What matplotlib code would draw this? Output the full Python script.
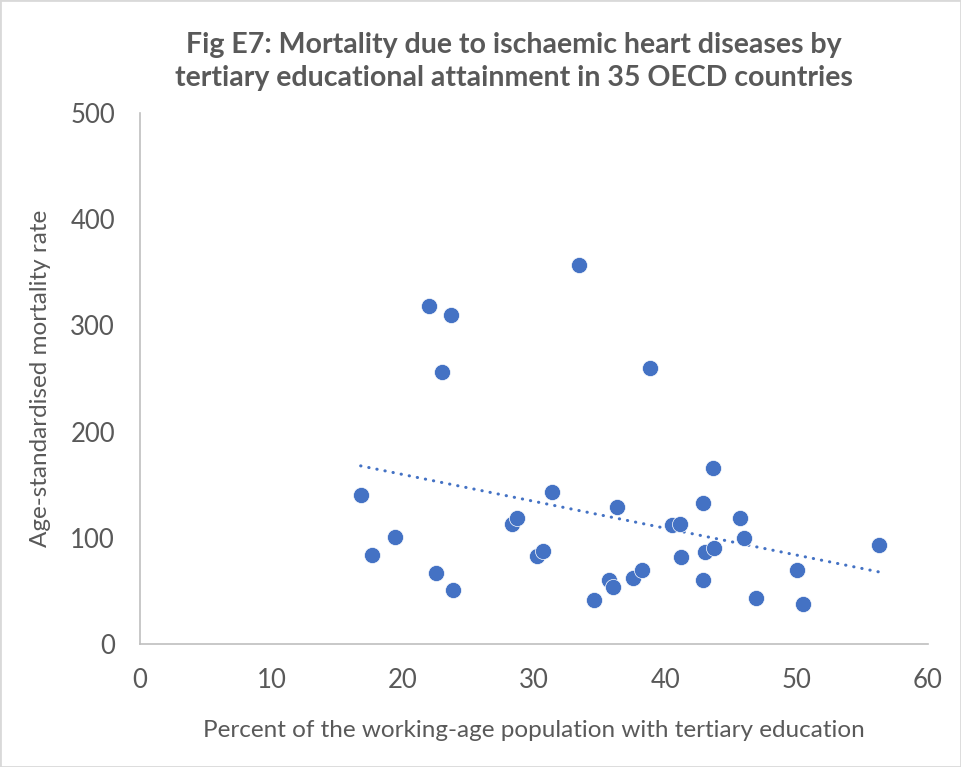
import numpy as np
import matplotlib
matplotlib.use('Agg')
import matplotlib.pyplot as plt
from matplotlib.patches import Rectangle

# percent of working-age population with tertiary education
tertiary = [16.8, 17.7, 19.4, 22.0, 22.5, 23.0, 23.7, 23.8, 28.3, 28.7,
            30.2, 30.7, 31.4, 33.4, 34.6, 35.7, 36.0, 36.3, 37.5, 38.2,
            38.8, 40.5, 41.1, 41.2, 42.9, 42.9, 43.0, 43.7, 43.6, 45.7,
            46.0, 46.9, 50.0, 50.5, 56.3]
# age-standardised mortality rate
mortality = [140, 84, 101, 318, 67, 256, 310, 51, 113, 119,
             83, 88, 143, 357, 41, 60, 54, 129, 62, 70,
             260, 112, 113, 82, 133, 60, 87, 90, 166, 119,
             100, 43, 70, 38, 93]

title = 'Fig E7: Mortality due to ischaemic heart diseases by\ntertiary educational attainment in 35 OECD countries'
xlab = 'Percent of the working-age population with tertiary education'
ylab = 'Age-standardised mortality rate'

plt.rcParams['font.family'] = ['Lato', 'DejaVu Sans']
txt = '#595959'
blue = '#4472C4'

fig = plt.figure(figsize=(9.61, 7.67), dpi=100)
ax = fig.add_axes([0.1457, 0.1604, 0.82, 0.6923])

ax.scatter(tertiary, mortality, s=135, color=blue, edgecolors='white', linewidths=0.5, zorder=3)

# linear trendline
k, b = np.polyfit(tertiary, mortality, 1)
xs = np.array([min(tertiary), max(tertiary)])
ax.plot(xs, k*xs + b, color=blue, lw=2.2, linestyle=(0, (0.1, 2.6)),
        dash_capstyle='round', zorder=2)

ax.set_xlim(0, 60)
ax.set_ylim(0, 500)
ax.set_xticks(range(0, 61, 10))
ax.set_yticks(range(0, 501, 100))
for s in ['top', 'right']:
    ax.spines[s].set_visible(False)
for s in ['left', 'bottom']:
    ax.spines[s].set_color('#BFBFBF')
    ax.spines[s].set_linewidth(1.2)
ax.tick_params(axis='both', length=0, labelsize=18.5, labelcolor=txt)
ax.tick_params(axis='x', pad=17)
ax.tick_params(axis='y', pad=18)

ax.set_xlabel(xlab, fontsize=17.5, color=txt, labelpad=20)
ax.set_ylabel(ylab, fontsize=17.5, color=txt, labelpad=14)
fig.text(0.535, 0.920, title, ha='center', va='center', fontsize=20.5,
         fontweight='bold', color=txt, linespacing=1.32)

fig.patches.append(Rectangle((0, 0), 1, 1, transform=fig.transFigure,
                             fill=False, edgecolor='#D9D9D9', lw=2))

fig.savefig('out.png', dpi=100)
